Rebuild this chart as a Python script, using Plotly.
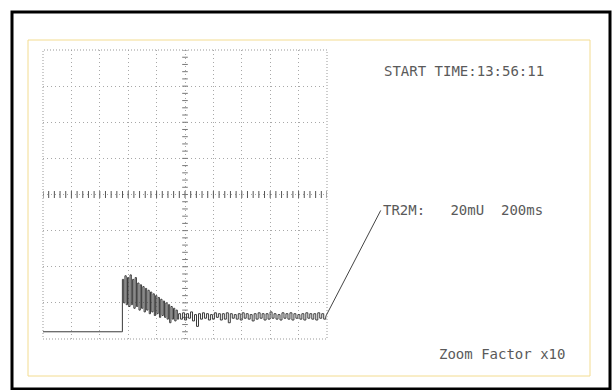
import plotly.graph_objects as go
import numpy as np

# Scope record: 200 ms/div horizontally, 20 mV/div vertically (10 x 8 divisions)
MS_PER_DIV = 200
MV_PER_DIV = 20

# Idle level before the trigger
idle_t = [0, 550]
idle_v = [-76, -76]

# Burst right after the trigger (sample period 9 ms), peaks and troughs alternate
burst_start = 550
burst_dt = 9
burst_v = [-76, -47, -60, -45, -61, -46, -62, -44.5, -61, -47, -63, -46, -62,
           -49, -64, -50, -63, -51, -65, -52, -64, -53, -66, -54, -65, -55,
           -67, -56, -66, -57, -68, -58, -67, -59, -68, -60, -69, -61, -71,
           -62, -69, -63, -70, -64, -69]

# Settled ripple afterwards (sample period 14 ms)
tail_start = 955
tail_dt = 14
tail_v = [-66, -69, -65.5, -69.5, -66, -68.5, -65, -70, -66.5, -73, -66, -69,
          -65.5, -68.5, -66, -69.5, -66.5, -69, -65.5, -68, -66, -69.5, -66,
          -69, -65.5, -71, -66, -68.5, -66.5, -69, -66, -69.5, -65.5, -68.5,
          -66, -69, -66.5, -70, -66, -69, -65.5, -68.5, -66, -69.5, -66, -69,
          -65, -68.5, -66, -69, -66.5, -69.5, -65.5, -68.5, -66, -69, -65.5,
          -69.5, -66, -68.5, -66.5, -69, -66, -69.5, -65.5, -68.5, -66, -69,
          -66, -69.5, -65.5, -68.5, -66, -69, -67.5]

start_time = "START TIME:13:56:11"
channel_label = "TR2M:\u00a0\u00a0\u00a020mU\u00a0\u00a0200ms"
zoom_label = "Zoom Factor x10"

W, H = 613, 390
X0, X1 = 43, 327      # plot area, pixels
Y0, Y1 = 50, 339

burst_t = [burst_start + i * burst_dt for i in range(len(burst_v))]
tail_t = [tail_start + i * tail_dt for i in range(len(tail_v))]
t = idle_t + burst_t + tail_t
v = idle_v + burst_v + tail_v

fig = go.Figure()

# graticule tick marks along the centre lines (fifths of a division)
hx = np.arange(0, 10 * MS_PER_DIV + 1, MS_PER_DIV / 5)
fig.add_trace(go.Scatter(x=hx, y=np.zeros_like(hx), mode="markers",
                         marker=dict(symbol="line-ns", size=5,
                                     line=dict(width=1, color="#555")),
                         hoverinfo="skip", showlegend=False))
vy = np.arange(-4 * MV_PER_DIV, 4 * MV_PER_DIV + 1, MV_PER_DIV / 5)
fig.add_trace(go.Scatter(x=np.full_like(vy, 5 * MS_PER_DIV), y=vy, mode="markers",
                         marker=dict(symbol="line-ew", size=4,
                                     line=dict(width=1, color="#777")),
                         hoverinfo="skip", showlegend=False))

# the recorded signal, drawn as held samples
fig.add_trace(go.Scatter(x=t, y=v, mode="lines",
                         line=dict(color="#3a3a3a", width=1, shape="hv"),
                         showlegend=False))

grid_style = dict(showgrid=True, gridcolor="#a8a8a8", griddash="1px,3px",
                  gridwidth=1, zeroline=False, showticklabels=False, ticks="")
fig.update_xaxes(range=[0, 10 * MS_PER_DIV], dtick=MS_PER_DIV,
                 domain=[X0 / W, X1 / W], **grid_style)
fig.update_yaxes(range=[-4 * MV_PER_DIV, 4 * MV_PER_DIV], dtick=MV_PER_DIV,
                 domain=[1 - Y1 / H, 1 - Y0 / H], **grid_style)

shapes = [
    # outer frame
    dict(type="rect", xref="paper", yref="paper",
         x0=12 / W, x1=610 / W, y0=1 - 389 / H, y1=1 - 12 / H,
         line=dict(color="black", width=3)),
    # inner frame
    dict(type="rect", xref="paper", yref="paper",
         x0=28 / W, x1=590 / W, y0=1 - 376 / H, y1=1 - 40 / H,
         line=dict(color="#f3dc90", width=1)),
    # graticule border
    dict(type="rect", xref="x domain", yref="y domain",
         x0=0, x1=1, y0=0, y1=1,
         line=dict(color="#999", width=1, dash="1px,2px")),
]

font = dict(family="DejaVu Sans Mono", size=14, color="#5a5a5a")
annotations = [
    dict(text=start_time, xref="paper", yref="paper", x=382 / W, y=1 - 71 / H,
         xanchor="left", yanchor="middle", showarrow=False, font=font),
    dict(text=zoom_label, xref="paper", yref="paper", x=437 / W, y=1 - 354 / H,
         xanchor="left", yanchor="middle", showarrow=False, font=font),
    dict(text=channel_label, x=t[-1], y=v[-1], xref="x", yref="y",
         ax=55, ay=-106, axref="pixel", ayref="pixel",
         xanchor="left", yanchor="middle",
         showarrow=True, arrowhead=0, arrowwidth=1, arrowcolor="#444",
         standoff=0, startstandoff=0, font=font),
]

fig.update_layout(width=W, height=H, margin=dict(l=0, r=0, t=0, b=0),
                  paper_bgcolor="white", plot_bgcolor="white",
                  shapes=shapes, annotations=annotations)

fig.write_html("out.html")
